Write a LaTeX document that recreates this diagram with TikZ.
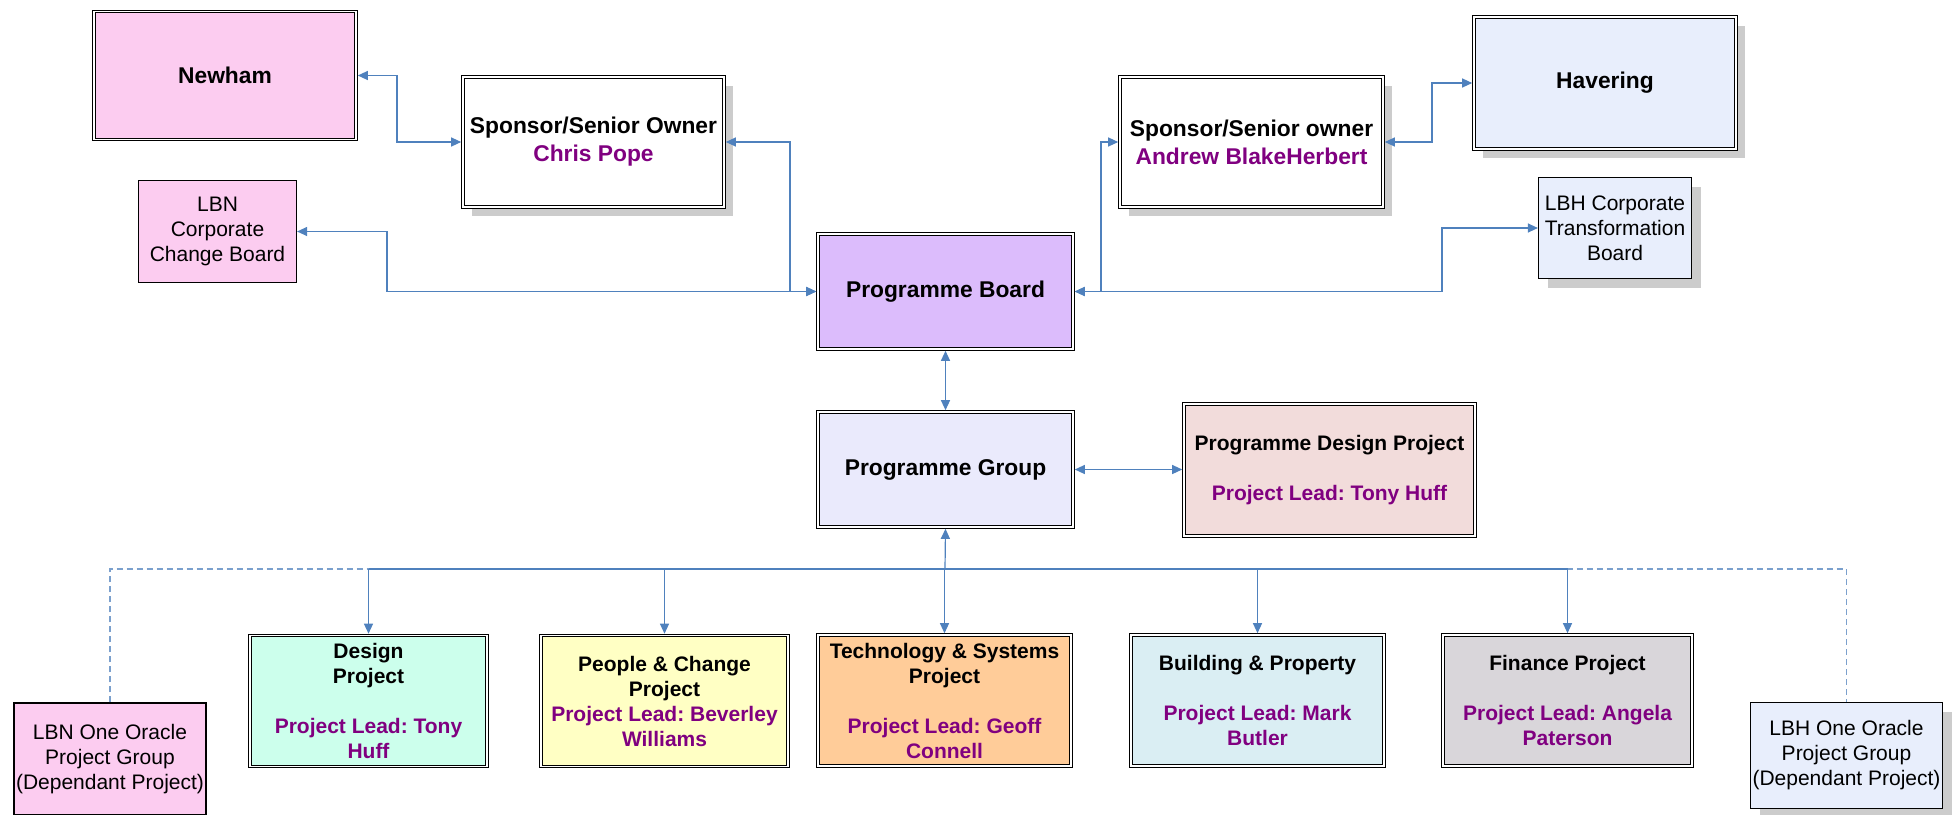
\documentclass[tikz,border=0pt]{standalone}
\usepackage{fontspec}
\setmainfont{Liberation Sans}
\usetikzlibrary{arrows.meta,shadows}
\frenchspacing
\definecolor{newhampink}{RGB}{252,204,240}
\definecolor{haveringblue}{RGB}{232,238,252}
\definecolor{boardlilac}{RGB}{220,188,252}
\definecolor{groupblue}{RGB}{234,234,252}
\definecolor{pdprose}{RGB}{242,220,219}
\definecolor{designmint}{RGB}{204,255,236}
\definecolor{peopleyellow}{RGB}{255,255,196}
\definecolor{techorange}{RGB}{255,204,153}
\definecolor{buildblue}{RGB}{218,238,243}
\definecolor{financegrey}{RGB}{217,214,218}
\definecolor{leadpurple}{RGB}{128,0,128}
\definecolor{linkblue}{RGB}{79,129,189}
\newcommand{\projlead}[1]{\textcolor{leadpurple}{#1}}
\newcommand{\gap}{\\[12.5pt]}
\tikzset{
  dblbox/.style={draw, line width=0.5pt, double, double distance=0.9pt, inner sep=0pt, outer sep=0.9pt,
    align=center, font=\fontsize{10.5}{12.5}\selectfont\bfseries},
  bigtext/.style={font=\fontsize{11.4}{14}\selectfont\bfseries},
  thinbox/.style={draw, line width=0.6pt, inner sep=0pt, outer sep=0.3pt,
    align=center, font=\fontsize{10.5}{12.5}\selectfont},
  boxshadow/.style={drop shadow={shadow xshift=4.5pt, shadow yshift=-4.5pt, fill=black!20, opacity=1}},
  link/.style={draw=linkblue, line width=0.6pt},
  twoway/.style={{Triangle[length=5pt,width=4.5pt]}-{Triangle[length=5pt,width=4.5pt]}},
  oneway/.style={-{Triangle[length=5pt,width=4.5pt]}},
  dashlink/.style={draw=linkblue!75, line width=0.6pt, dash pattern=on 3pt off 2pt}
}
\begin{document}
\begin{tikzpicture}[x=0.5pt, y=-0.5pt]
\useasboundingbox (0,0) rectangle (1959,814);
\node[dblbox, bigtext, fill=newhampink, minimum width=131pt, minimum height=64pt] (newham) at (225,75.5) {Newham};
\node[dblbox, bigtext, boxshadow, fill=white, minimum width=130.5pt, minimum height=65pt] (chris) at (593.5,142) {Sponsor/Senior Owner\\\projlead{Chris Pope}};
\node[thinbox, fill=newhampink, minimum width=79pt, minimum height=51pt] (lbncorp) at (217.5,231.5) {LBN\\Corporate\\Change Board};
\node[dblbox, bigtext, boxshadow, fill=white, minimum width=131.5pt, minimum height=65pt] (andrew) at (1251.5,142) {Sponsor/Senior owner\\\projlead{Andrew BlakeHerbert}};
\node[dblbox, bigtext, boxshadow, fill=haveringblue, minimum width=131pt, minimum height=66pt] (havering) at (1605,83) {Havering};
\node[thinbox, boxshadow, fill=haveringblue, minimum width=76.5pt, minimum height=50.5pt] (lbhcorp) at (1615,228) {LBH Corporate\\Transformation\\Board};
\node[dblbox, bigtext, fill=boardlilac, minimum width=127.5pt, minimum height=57.5pt] (pboard) at (945.5,291.5) {Programme Board};
\node[dblbox, bigtext, fill=groupblue, minimum width=127.5pt, minimum height=57.5pt] (pgroup) at (945.5,469.5) {Programme Group};
\node[dblbox, fill=pdprose, minimum width=145.5pt, minimum height=66pt] (pdesign) at (1329.5,470) {Programme Design Project\gap\projlead{Project Lead: Tony Huff}};
\node[dblbox, fill=designmint, minimum width=118.5pt, minimum height=65.5pt] (design) at (368.5,701) {Design\\Project\gap\projlead{Project Lead: Tony}\\\projlead{Huff}};
\node[dblbox, fill=peopleyellow, minimum width=123.5pt, minimum height=65.5pt] (people) at (664.5,701) {People \& Change\\Project\\\projlead{Project Lead: Beverley}\\\projlead{Williams}};
\node[dblbox, fill=techorange, minimum width=126.5pt, minimum height=65.5pt] (tech) at (944.5,700.5) {Technology \& Systems\\Project\gap\projlead{Project Lead: Geoff}\\\projlead{Connell}};
\node[dblbox, fill=buildblue, minimum width=126.5pt, minimum height=65.5pt] (build) at (1257.5,700.5) {Building \& Property\gap\projlead{Project Lead: Mark}\\\projlead{Butler}};
\node[dblbox, fill=financegrey, minimum width=124.5pt, minimum height=65.5pt] (finance) at (1567.5,700.5) {Finance Project\gap\projlead{Project Lead: Angela}\\\projlead{Paterson}};
\node[thinbox, fill=newhampink, minimum width=96pt, minimum height=56pt] (lbnoracle) at (110,759) {LBN One Oracle\\Project Group\\(Dependant Project)};
\node[thinbox, boxshadow, fill=haveringblue, minimum width=96pt, minimum height=53pt] (lbhoracle) at (1846.5,755.5) {LBH One Oracle\\Project Group\\(Dependant Project)};
\draw[link, twoway] (newham.east) -| (397,108) |- (chris.west);
\draw[link, twoway] (lbncorp.east) -| (387,260) |- (pboard.west);
\draw[link, twoway] (chris.east) -| (790,220) |- (pboard.west);
\draw[link, twoway] (andrew.west) -| (1101,220) |- (pboard.east);
\draw[link, twoway] (lbhcorp.west) -| (1442,260) |- (pboard.east);
\draw[link, twoway] (andrew.east) -| (1432,110) |- (havering.west);
\draw[link, twoway] (pboard.south) -- (pgroup.north);
\draw[link, twoway] (pgroup.east) -- (pgroup.east -| pdesign.west);
\coordinate (bus) at (945,569);
\draw[dashlink] (lbnoracle.north) |- (bus) -| (lbhoracle.north);
\draw[link, line width=0.9pt] (bus -| design.north) -- (bus -| finance.north);
\draw[link, oneway] (bus) -- (pgroup.south);
\foreach \p in {design,people,tech,build,finance}{
  \draw[link, oneway] (bus -| \p.north) -- (\p.north);
}
\end{tikzpicture}
\end{document}
